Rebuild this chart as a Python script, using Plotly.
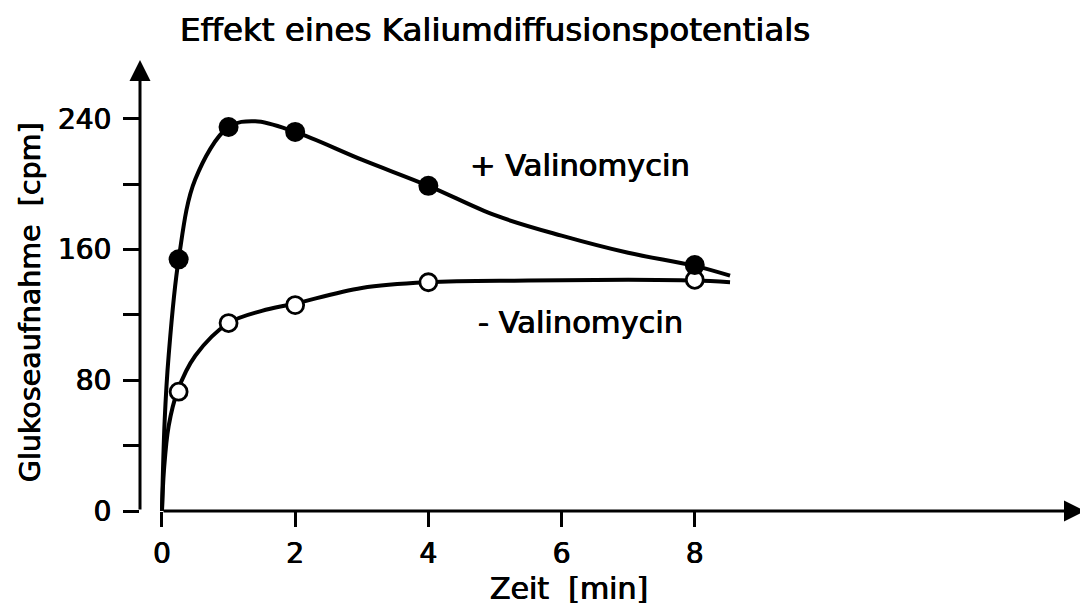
import plotly.graph_objects as go

# ---- data ----
# measured points
t_points = [0.25, 1, 2, 4, 8]
plus_vals = [154, 235, 232, 199, 150.5]      # + Valinomycin (filled)
minus_vals = [73, 115, 126, 140, 141.5]      # - Valinomycin (open)

# drawn curves
plus_curve_x = [0, 0.04, 0.1, 0.25, 0.5, 1.0, 1.4, 2.0, 3.0, 4.0, 5.0, 6.0, 7.0, 8.0, 8.53]
plus_curve_y = [0, 55, 95, 154, 203, 235, 238.5, 232, 215, 199, 181, 168.5, 158, 150, 144]
minus_curve_x = [0, 0.03, 0.1, 0.23, 0.5, 1.0, 1.5, 2.0, 3.0, 4.0, 5.5, 7.0, 8.0, 8.53]
minus_curve_y = [0, 25, 52, 73, 95, 115, 122.5, 127, 136.5, 140, 141, 141.5, 141, 140]

x_ticks = [0, 2, 4, 6, 8]
y_ticks = [0, 40, 80, 120, 160, 200, 240]
y_ticktext = ["0", "", "80", "", "160", "", "240"]

title_text = "Effekt eines Kaliumdiffusionspotentials"
x_title = "Zeit  [min]"
y_title = "Glukoseaufnahme  [cpm]"
label_plus = "+ Valinomycin"
label_minus = "- Valinomycin"

X_MIN, X_MAX = -0.33, 13.86
Y_MIN, Y_MAX = 0, 276

FONT = "DejaVu Sans"
SHADOW = "0.5px 0 0 #000, -0.4px 0 0 #000"


def tfont(size):
    return dict(family=FONT, size=size, color="black", shadow=SHADOW)


fig = go.Figure()
fig.add_trace(go.Scatter(x=plus_curve_x, y=plus_curve_y, mode="lines",
                         line=dict(color="black", width=4, shape="spline", smoothing=1.0),
                         hoverinfo="skip", showlegend=False))
fig.add_trace(go.Scatter(x=minus_curve_x, y=minus_curve_y, mode="lines",
                         line=dict(color="black", width=4, shape="spline", smoothing=1.0),
                         hoverinfo="skip", showlegend=False))
fig.add_trace(go.Scatter(x=t_points, y=minus_vals, mode="markers",
                         marker=dict(size=17, color="white", line=dict(color="black", width=2.8)),
                         showlegend=False))
fig.add_trace(go.Scatter(x=t_points, y=plus_vals, mode="markers",
                         marker=dict(size=20, color="black", line=dict(color="black", width=0)),
                         showlegend=False))

annotations = [
    # axes drawn as arrows
    dict(x=X_MAX, y=0, xref="x", yref="y", ax=0, ay=0, axref="x", ayref="y",
         text="", showarrow=True, arrowhead=2, arrowsize=1.4, arrowwidth=3, arrowcolor="black"),
    dict(x=X_MIN, y=Y_MAX, xref="x", yref="y", ax=X_MIN, ay=0, axref="x", ayref="y",
         text="", showarrow=True, arrowhead=2, arrowsize=1.4, arrowwidth=3, arrowcolor="black"),
    dict(x=0.3757, y=1.0665, xref="paper", yref="paper", text=title_text, showarrow=False,
         font=tfont(32.5), xanchor="center", yanchor="middle"),
    dict(x=-0.1164, y=0.463, xref="paper", yref="paper", text=y_title, showarrow=False, textangle=-90,
         font=tfont(28.5), xanchor="center", yanchor="middle"),
    dict(x=0.454, y=-0.171, xref="paper", yref="paper", text=x_title, showarrow=False,
         font=tfont(30), xanchor="center", yanchor="middle"),
    dict(x=0.4656, y=0.767, xref="paper", yref="paper", text=label_plus, showarrow=False,
         font=tfont(30.5), xanchor="center", yanchor="middle"),
    dict(x=0.4666, y=0.419, xref="paper", yref="paper", text=label_minus, showarrow=False,
         font=tfont(30.5), xanchor="center", yanchor="middle"),
]

fig.update_layout(
    width=1088, height=607,
    margin=dict(l=132, r=11, t=52, b=104),
    paper_bgcolor="white", plot_bgcolor="white",
    font=dict(family=FONT, color="black"),
    annotations=annotations,
    xaxis=dict(range=[X_MIN, X_MAX], tickvals=x_ticks, ticktext=[str(v) for v in x_ticks],
               ticks="outside", ticklen=15, tickwidth=3, tickcolor="black",
               showline=False, showgrid=False, zeroline=False,
               tickfont=tfont(28), ticklabelstandoff=2),
    yaxis=dict(range=[Y_MIN, Y_MAX], tickvals=y_ticks, ticktext=y_ticktext,
               ticks="outside", ticklen=16, tickwidth=3, tickcolor="black",
               showline=False, showgrid=False, zeroline=False,
               tickfont=tfont(28), ticklabelstandoff=6),
)

fig.write_html("out.html")
